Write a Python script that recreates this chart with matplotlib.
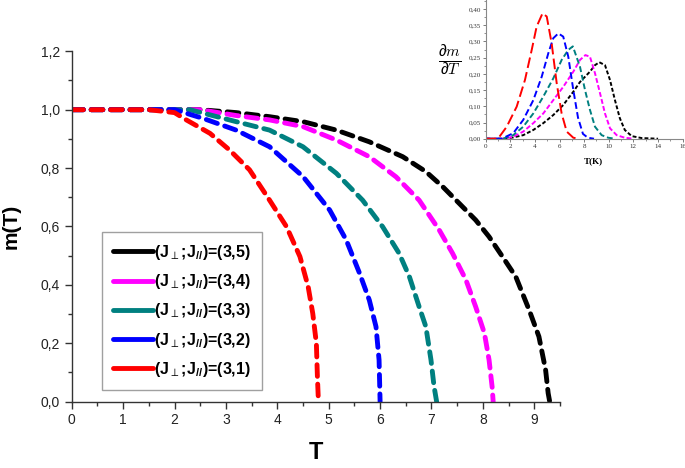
import matplotlib
matplotlib.use("Agg")
import matplotlib.pyplot as plt
from matplotlib.lines import Line2D
from matplotlib.ticker import FuncFormatter, MultipleLocator

plt.rcParams['font.family'] = ['Liberation Sans', 'DejaVu Sans']
plt.rcParams['mathtext.default'] = 'regular'

# ---- main panel: m(T) for (J_perp; J_//) = (3,5) ... (3,1)
labels = ["(J$_{\\perp}$;J$_{//}$)=(3,5)", "(J$_{\\perp}$;J$_{//}$)=(3,4)",
          "(J$_{\\perp}$;J$_{//}$)=(3,3)", "(J$_{\\perp}$;J$_{//}$)=(3,2)",
          "(J$_{\\perp}$;J$_{//}$)=(3,1)"]
colors = ['#000000', '#ff00ff', '#008080', '#0000ff', '#ff0000']

T_j5 = [0, 2.5, 3.2, 3.85, 4.5, 5.15, 5.79, 6.44, 6.89, 7.22, 7.54, 7.86, 8.12, 8.38, 8.64, 8.90, 9.09, 9.22, 9.27, 9.3]
m_j5 = [1.0, 1.0, 0.99, 0.976, 0.959, 0.930, 0.890, 0.839, 0.788, 0.736, 0.679, 0.622, 0.565, 0.497, 0.428, 0.314, 0.223, 0.109, 0.029, 0.0]
T_j4 = [0, 2.5, 3.2, 3.85, 4.5, 5.15, 5.79, 6.31, 6.76, 7.15, 7.41, 7.67, 7.86, 8.03, 8.12, 8.18, 8.2]
m_j4 = [1.0, 1.0, 0.98, 0.965, 0.942, 0.896, 0.839, 0.770, 0.690, 0.588, 0.508, 0.417, 0.325, 0.234, 0.143, 0.05, 0.0]
T_j3 = [0, 2.3, 3.2, 3.85, 4.5, 5.15, 5.66, 6.05, 6.37, 6.57, 6.76, 6.89, 6.99, 7.05, 7.1]
m_j3 = [1.0, 1.0, 0.959, 0.930, 0.873, 0.782, 0.690, 0.599, 0.508, 0.428, 0.325, 0.257, 0.143, 0.052, 0.0]
T_j2 = [0, 2.0, 2.56, 3.2, 3.85, 4.5, 5.02, 5.34, 5.60, 5.79, 5.92, 5.98, 6.0]
m_j2 = [1.0, 1.0, 0.97, 0.93, 0.873, 0.771, 0.656, 0.554, 0.440, 0.348, 0.257, 0.143, 0.0]
T_j1 = [0, 1.5, 2.0, 2.23, 2.69, 3.07, 3.46, 3.85, 4.18, 4.44, 4.60, 4.69, 4.76, 4.78, 4.8]
m_j1 = [1.0, 1.0, 0.99, 0.965, 0.919, 0.862, 0.794, 0.690, 0.599, 0.497, 0.394, 0.302, 0.200, 0.086, 0.0]

# ---- inset: dm/dT
Ti_j5 = [0, 1.5, 2.24, 3.05, 3.87, 4.68, 5.49, 6.30, 7.12, 7.66, 8.47, 8.88, 9.23, 9.69, 10.1, 10.5, 10.9, 11.3, 11.86, 12.67, 14.0]
d_j5 = [0, 0, 0.004, 0.011, 0.027, 0.048, 0.073, 0.104, 0.145, 0.175, 0.207, 0.227, 0.236, 0.227, 0.181, 0.119, 0.063, 0.027, 0.008, 0.002, 0.0]
Ti_j4 = [0, 1.5, 2.24, 3.05, 3.87, 4.68, 5.49, 6.30, 7.12, 7.66, 8.1, 8.47, 8.88, 9.29, 9.69, 10.1, 10.64, 11.3, 12.0]
d_j4 = [0, 0, 0.006, 0.022, 0.048, 0.078, 0.119, 0.160, 0.207, 0.243, 0.258, 0.253, 0.202, 0.140, 0.078, 0.032, 0.011, 0.003, 0.0]
Ti_j3 = [0, 1.4, 2.24, 3.05, 3.87, 4.68, 5.49, 6.17, 6.71, 7.08, 7.66, 8.07, 8.47, 8.88, 9.42, 9.96, 10.5]
d_j3 = [0, 0, 0.011, 0.037, 0.078, 0.130, 0.186, 0.243, 0.274, 0.285, 0.222, 0.150, 0.089, 0.037, 0.011, 0.003, 0.0]
Ti_j2 = [0, 1.3, 2.24, 3.05, 3.87, 4.55, 5.09, 5.49, 5.90, 6.30, 6.71, 7.12, 7.5, 7.9, 8.3, 8.8]
d_j2 = [0, 0, 0.017, 0.058, 0.119, 0.191, 0.264, 0.310, 0.325, 0.315, 0.253, 0.150, 0.065, 0.015, 0.003, 0.0]
Ti_j1 = [0, 1.0, 1.71, 2.52, 3.19, 3.74, 4.14, 4.62, 4.96, 5.36, 5.77, 6.17, 6.58, 7.12, 7.6]
d_j1 = [0, 0, 0.037, 0.099, 0.181, 0.274, 0.346, 0.387, 0.377, 0.294, 0.171, 0.078, 0.022, 0.003, 0.0]

comma = lambda fmt: FuncFormatter(lambda v, p: (fmt % v).replace('.', ','))

fig = plt.figure(figsize=(6.85, 4.68), dpi=100)
ax = fig.add_axes([0.1047, 0.1417, 0.7128, 0.7487])

main_T = [T_j5, T_j4, T_j3, T_j2, T_j1]
main_m = [m_j5, m_j4, m_j3, m_j2, m_j1]
for T, m, c in zip(main_T, main_m, colors):
    ax.plot(T, m, color=c, lw=3.5, dashes=(2.4, 1.6), dash_capstyle='round')

ax.set_xlim(0, 9.5)
ax.set_ylim(0, 1.2)
ax.xaxis.set_major_locator(MultipleLocator(1))
ax.xaxis.set_minor_locator(MultipleLocator(0.5))
ax.yaxis.set_major_locator(MultipleLocator(0.2))
ax.yaxis.set_minor_locator(MultipleLocator(0.1))
ax.yaxis.set_major_formatter(comma('%.1f'))
for s in ['top', 'right']:
    ax.spines[s].set_visible(False)
for s in ['left', 'bottom']:
    ax.spines[s].set_color('#333333')
    ax.spines[s].set_linewidth(1.0)
ax.tick_params(which='major', direction='out', length=5, width=1, labelsize=10, colors='#333333', labelcolor='#222222')
ax.tick_params(which='minor', direction='out', length=3, width=1, colors='#333333')
ax.set_xlabel('T', fontsize=17, fontweight='bold', labelpad=10)
ax.set_ylabel('m(T)', fontsize=15, fontweight='bold', labelpad=14)

handles = [Line2D([], [], color=c, lw=3.5, solid_capstyle='round') for c in colors]
leg = ax.legend(handles, labels, loc='lower left', bbox_to_anchor=(0.061, 0.033),
                prop={'weight': 'bold', 'size': 11.5}, frameon=True, fancybox=False,
                handlelength=2.5, handletextpad=0.1, labelspacing=0.64,
                borderpad=0.7, borderaxespad=0)
leg.get_frame().set_edgecolor('#888888')
leg.get_frame().set_linewidth(1.0)

# ---- inset
ins = fig.add_axes([0.709, 0.7036, 0.2876, 0.2964])
inset_T = [Ti_j5, Ti_j4, Ti_j3, Ti_j2, Ti_j1]
inset_d = [d_j5, d_j4, d_j3, d_j2, d_j1]
inset_dash = [(2.0, 1.1), (2.5, 1.2), (3.0, 1.5), (3.5, 1.7), (5.5, 2.2)]
for T, d, c, ds in zip(inset_T, inset_d, colors, inset_dash):
    ins.plot(T, d, color=c, lw=1.4, dashes=ds)
ins.set_xlim(0, 16)
ins.set_ylim(0, 0.428)
ins.xaxis.set_major_locator(MultipleLocator(2))
ins.xaxis.set_minor_locator(MultipleLocator(1))
ins.yaxis.set_major_locator(MultipleLocator(0.05))
ins.yaxis.set_minor_locator(MultipleLocator(0.025))
ins.yaxis.set_major_formatter(comma('%.2f'))
ins.patch.set_alpha(0)
for s in ['top', 'right']:
    ins.spines[s].set_visible(False)
for s in ['left', 'bottom']:
    ins.spines[s].set_color('#888888')
    ins.spines[s].set_linewidth(0.8)
for lab in ins.get_xticklabels() + ins.get_yticklabels():
    lab.set_family('Liberation Serif')
ins.tick_params(which='major', direction='out', length=2, width=0.6, labelsize=5, pad=1.5, colors='#666666', labelcolor='#333333')
ins.tick_params(which='minor', direction='out', length=1.2, width=0.5, colors='#666666')

fig.text(0.866, 0.655, 'T(K)', fontsize=6.5, fontweight='bold', family='Liberation Serif',
         ha='center', va='center')
fig.text(0.657, 0.870, r'$\frac{\partial \mathit{m}}{\partial \mathit{T}}$', fontsize=16,
         math_fontfamily='cm', ha='center', va='center')

fig.savefig('out.png', dpi=100, facecolor='white')
